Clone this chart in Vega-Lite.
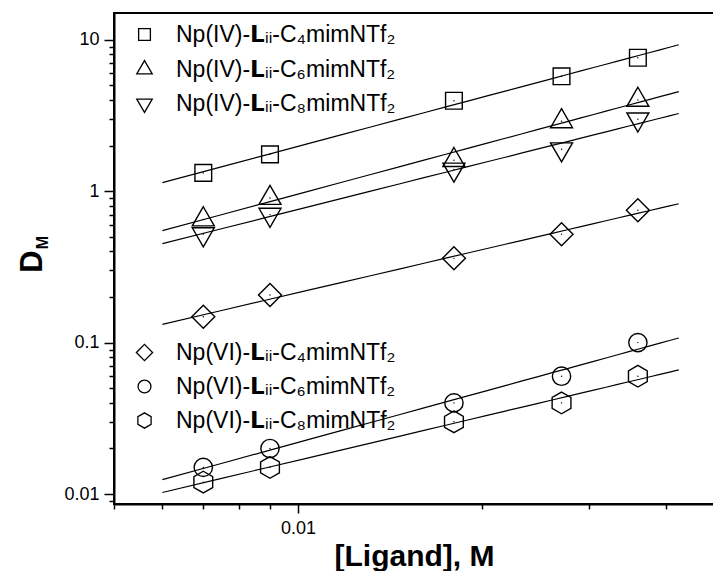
{
  "$schema": "https://vega.github.io/schema/vega-lite/v6.json",
  "autosize": {"type": "none"},
  "padding": {"left": 114, "top": 13, "right": 0, "bottom": 67},
  "width": 600,
  "height": 491,
  "background": "white",
  "config": {
    "font": "Liberation Sans",
    "view": {"stroke": "black", "strokeWidth": 2},
    "axis": {"domainColor": "black", "domainWidth": 2, "tickColor": "black", "tickWidth": 1.5, "labelColor": "black", "titleColor": "black", "grid": false, "labelFont": "Liberation Sans", "labelFontSize": 18, "labelOverlap": false, "labelFlush": false}
  },
  "datasets": {
    "pts": [
      {"series": "Np(IV)-𝗟ᵢᵢ-C₄mimNTf₂", "g": "IV", "L": 0.007, "D": 1.32},
      {"series": "Np(IV)-𝗟ᵢᵢ-C₄mimNTf₂", "g": "IV", "L": 0.009, "D": 1.75},
      {"series": "Np(IV)-𝗟ᵢᵢ-C₄mimNTf₂", "g": "IV", "L": 0.018, "D": 3.95},
      {"series": "Np(IV)-𝗟ᵢᵢ-C₄mimNTf₂", "g": "IV", "L": 0.027, "D": 5.73},
      {"series": "Np(IV)-𝗟ᵢᵢ-C₄mimNTf₂", "g": "IV", "L": 0.036, "D": 7.6},
      {"series": "Np(IV)-𝗟ᵢᵢ-C₆mimNTf₂", "g": "IV", "L": 0.007, "D": 0.65},
      {"series": "Np(IV)-𝗟ᵢᵢ-C₆mimNTf₂", "g": "IV", "L": 0.009, "D": 0.9},
      {"series": "Np(IV)-𝗟ᵢᵢ-C₆mimNTf₂", "g": "IV", "L": 0.018, "D": 1.6},
      {"series": "Np(IV)-𝗟ᵢᵢ-C₆mimNTf₂", "g": "IV", "L": 0.027, "D": 2.89},
      {"series": "Np(IV)-𝗟ᵢᵢ-C₆mimNTf₂", "g": "IV", "L": 0.036, "D": 4.0},
      {"series": "Np(IV)-𝗟ᵢᵢ-C₈mimNTf₂", "g": "IV", "L": 0.007, "D": 0.52},
      {"series": "Np(IV)-𝗟ᵢᵢ-C₈mimNTf₂", "g": "IV", "L": 0.009, "D": 0.7},
      {"series": "Np(IV)-𝗟ᵢᵢ-C₈mimNTf₂", "g": "IV", "L": 0.018, "D": 1.39},
      {"series": "Np(IV)-𝗟ᵢᵢ-C₈mimNTf₂", "g": "IV", "L": 0.027, "D": 1.89},
      {"series": "Np(IV)-𝗟ᵢᵢ-C₈mimNTf₂", "g": "IV", "L": 0.036, "D": 2.98},
      {"series": "Np(VI)-𝗟ᵢᵢ-C₄mimNTf₂", "g": "VI", "L": 0.007, "D": 0.148},
      {"series": "Np(VI)-𝗟ᵢᵢ-C₄mimNTf₂", "g": "VI", "L": 0.009, "D": 0.206},
      {"series": "Np(VI)-𝗟ᵢᵢ-C₄mimNTf₂", "g": "VI", "L": 0.018, "D": 0.36},
      {"series": "Np(VI)-𝗟ᵢᵢ-C₄mimNTf₂", "g": "VI", "L": 0.027, "D": 0.52},
      {"series": "Np(VI)-𝗟ᵢᵢ-C₄mimNTf₂", "g": "VI", "L": 0.036, "D": 0.748},
      {"series": "Np(VI)-𝗟ᵢᵢ-C₆mimNTf₂", "g": "VI", "L": 0.007, "D": 0.015},
      {"series": "Np(VI)-𝗟ᵢᵢ-C₆mimNTf₂", "g": "VI", "L": 0.009, "D": 0.02},
      {"series": "Np(VI)-𝗟ᵢᵢ-C₆mimNTf₂", "g": "VI", "L": 0.018, "D": 0.04},
      {"series": "Np(VI)-𝗟ᵢᵢ-C₆mimNTf₂", "g": "VI", "L": 0.027, "D": 0.06},
      {"series": "Np(VI)-𝗟ᵢᵢ-C₆mimNTf₂", "g": "VI", "L": 0.036, "D": 0.1},
      {"series": "Np(VI)-𝗟ᵢᵢ-C₈mimNTf₂", "g": "VI", "L": 0.007, "D": 0.012},
      {"series": "Np(VI)-𝗟ᵢᵢ-C₈mimNTf₂", "g": "VI", "L": 0.009, "D": 0.015},
      {"series": "Np(VI)-𝗟ᵢᵢ-C₈mimNTf₂", "g": "VI", "L": 0.018, "D": 0.03},
      {"series": "Np(VI)-𝗟ᵢᵢ-C₈mimNTf₂", "g": "VI", "L": 0.027, "D": 0.04},
      {"series": "Np(VI)-𝗟ᵢᵢ-C₈mimNTf₂", "g": "VI", "L": 0.036, "D": 0.06}
    ]
  },
  "data": {"name": "pts"},
  "layer": [
    {
      "transform": [{"regression": "D", "on": "L", "groupby": ["series"], "method": "pow", "extent": [0.006, 0.042]}],
      "mark": {"type": "line", "color": "black", "strokeWidth": 1.2},
      "encoding": {
        "x": {
          "field": "L", "type": "quantitative",
          "scale": {"type": "log", "domain": [0.005, 0.04796], "nice": false},
          "axis": {
            "values": [0.005, 0.006, 0.007, 0.008, 0.009, 0.01, 0.02, 0.03, 0.04],
            "labelExpr": "datum.value == 0.01 ? '0.01' : ''",
            "tickSize": {"condition": {"test": "datum.value == 0.01", "value": 9}, "value": 5},
            "labelPadding": 6,
            "title": "[Ligand], M",
            "titleFont": "Liberation Sans",
            "titleFontSize": 30,
            "titleFontWeight": "bold",
            "titlePadding": 4
          }
        },
        "y": {
          "field": "D", "type": "quantitative",
          "scale": {"type": "log", "domain": [0.0086, 15], "nice": false},
          "axis": {
            "orient": "left",
            "values": [0.009, 0.01, 0.02, 0.03, 0.04, 0.05, 0.06, 0.07, 0.08, 0.09, 0.1, 0.2, 0.3, 0.4, 0.5, 0.6, 0.7, 0.8, 0.9, 1, 2, 3, 4, 5, 6, 7, 8, 9, 10],
            "labelExpr": "indexof([0.01, 0.1, 1, 10], datum.value) >= 0 ? format(datum.value, '~g') : ''",
            "tickSize": {"condition": {"test": "indexof([0.01, 0.1, 1, 10], datum.value) >= 0", "value": 10}, "value": 5},
            "labelPadding": 5,
            "title": "D",
            "titleFontSize": 31,
            "titleFontWeight": "bold",
            "titleX": -73,
            "titleY": 248,
            "titleAngle": -90,
            "titleBaseline": "alphabetic",
            "titleAlign": "center"
          }
        },
        "detail": {"field": "series"}
      }
    },
    {
      "transform": [{"filter": "datum.g == 'IV'"}],
      "mark": {"type": "point", "filled": false, "color": "black", "strokeWidth": 1.4, "opacity": 1, "size": 484},
      "encoding": {
        "x": {"field": "L", "type": "quantitative"},
        "y": {"field": "D", "type": "quantitative", "axis": null},
        "shape": {
          "field": "series", "type": "nominal",
          "scale": {"domain": ["Np(IV)-𝗟ᵢᵢ-C₄mimNTf₂", "Np(IV)-𝗟ᵢᵢ-C₆mimNTf₂", "Np(IV)-𝗟ᵢᵢ-C₈mimNTf₂"], "range": ["M-0.76,-0.76L0.76,-0.76L0.76,0.76L-0.76,0.76Z", "M0,-1.155L1,0.577L-1,0.577Z", "M0,1.155L1,-0.577L-1,-0.577Z"]},
          "legend": {"orient": "none", "legendX": 19, "legendY": 10, "title": null, "symbolSize": 240, "symbolStrokeColor": "black", "symbolStrokeWidth": 1.3, "symbolOpacity": 1, "labelFontSize": 23, "labelFont": "Liberation Sans", "labelColor": "black", "labelOffset": 20, "rowPadding": 10, "padding": 0, "labelLimit": 400}
        }
      }
    },
    {
      "transform": [{"filter": "datum.g == 'VI'"}],
      "mark": {"type": "point", "filled": false, "color": "black", "strokeWidth": 1.4, "opacity": 1, "size": 484},
      "encoding": {
        "x": {"field": "L", "type": "quantitative"},
        "y": {"field": "D", "type": "quantitative", "axis": null},
        "shape": {
          "field": "series", "type": "nominal",
          "scale": {"domain": ["Np(VI)-𝗟ᵢᵢ-C₄mimNTf₂", "Np(VI)-𝗟ᵢᵢ-C₆mimNTf₂", "Np(VI)-𝗟ᵢᵢ-C₈mimNTf₂"], "range": ["M-1.045,0L0,-1.045L1.045,0L0,1.045Z", "M0.832,0A0.832,0.832,0,1,1,-0.832,0A0.832,0.832,0,1,1,0.832,0Z", "M0,-0.986L0.854,-0.493L0.854,0.493L0,0.986L-0.854,0.493L-0.854,-0.493Z"]},
          "legend": {"orient": "none", "legendX": 19, "legendY": 328, "title": null, "symbolSize": 240, "symbolStrokeColor": "black", "symbolStrokeWidth": 1.3, "symbolOpacity": 1, "labelFontSize": 23, "labelFont": "Liberation Sans", "labelColor": "black", "labelOffset": 20, "rowPadding": 10, "padding": 0, "labelLimit": 400}
        }
      }
    },
    {
      "mark": {"type": "circle", "size": 2, "color": "black", "opacity": 1},
      "encoding": {
        "x": {"field": "L", "type": "quantitative"},
        "y": {
          "field": "D", "type": "quantitative",
          "axis": {"orient": "left", "labels": false, "ticks": false, "domain": false, "title": "M", "titleFontSize": 16, "titleFontWeight": "bold", "titleX": -67, "titleY": 229, "titleAngle": -90, "titleBaseline": "alphabetic", "titleAlign": "center"}
        }
      }
    }
  ],
  "resolve": {"scale": {"shape": "independent"}, "axis": {"y": "independent"}}
}
